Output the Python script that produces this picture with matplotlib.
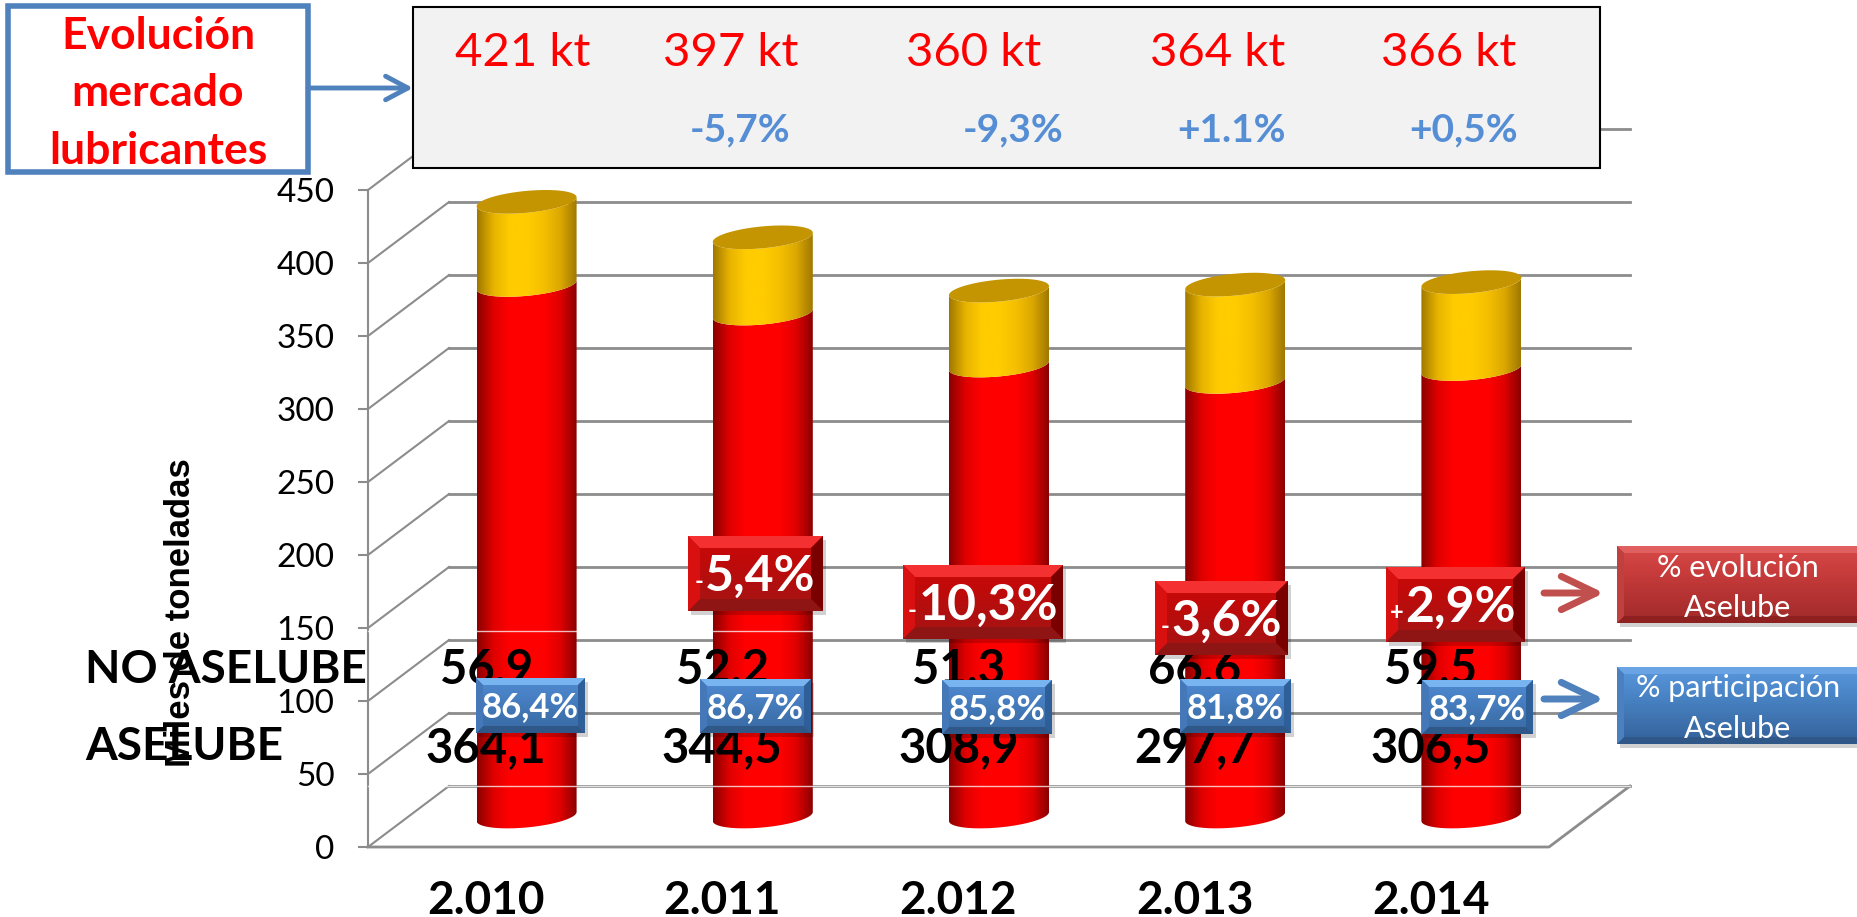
import numpy as np
import matplotlib
matplotlib.use('Agg')
import matplotlib.pyplot as plt
from matplotlib.colors import LinearSegmentedColormap
from matplotlib.patches import Polygon, Rectangle
from matplotlib.transforms import blended_transform_factory

# Data
years = ['2.010', '2.011', '2.012', '2.013', '2.014']
aselube = [364.1, 344.5, 308.9, 297.7, 306.5]
no_aselube = [56.9, 52.2, 51.3, 66.6, 59.5]
aselube_labels = ['364,1', '344,5', '308,9', '297,7', '306,5']
no_aselube_labels = ['56,9', '52,2', '51,3', '66,6', '59,5']
market_labels = ['421 kt', '397 kt', '360 kt', '364 kt', '366 kt']
market_change = ['-5,7%', '-9,3%', '+1.1%', '+0,5%']
share_labels = ['86,4%', '86,7%', '85,8%', '81,8%', '83,7%']
evol_signs = ['-', '-', '-', '+']
evol_labels = ['5,4%', '10,3%', '3,6%', '2,9%']
y_ticks = [0, 50, 100, 150, 200, 250, 300, 350, 400, 450]

W, H = 1858, 917
FONT = 'Lato'
GRID = '#8c8c8c'

# 3D look of the chart, in axis units
DEPTH_X = 81 / 236.2
DEPTH_Y = 61 / 1.46
BAR_A = 50 / 236.2
BAR_B = 7.5
BAR_TILT = 3.1

fig = plt.figure(figsize=(W / 100, H / 100), dpi=100)

# main axes = front plane of the 3D chart
ax = fig.add_axes([368 / W, 1 - 847 / H, (1549 - 368) / W, (847 - 190) / H])
ax.patch.set_alpha(0)
for s in ['top', 'right', 'bottom']:
    ax.spines[s].set_visible(False)
ax.spines['left'].set_color(GRID)
ax.spines['left'].set_linewidth(1.5)

# overlay in pixels for boxes and notes
ov = fig.add_axes([0, 0, 1, 1], zorder=5)
ov.patch.set_alpha(0)
ov.axis('off')


def gradient(axes, extent, colors, clip=None, horizontal=True, zorder=3):
    cmap = LinearSegmentedColormap.from_list('g', colors)
    g = np.linspace(0, 1, 256)
    g = g.reshape(1, -1) if horizontal else g.reshape(-1, 1)
    im = axes.imshow(g, cmap=cmap, extent=extent, aspect='auto', zorder=zorder,
                     interpolation='bilinear', origin='upper')
    if clip is not None:
        im.set_clip_path(clip)
    return im


def cylinder(x, v0, v1, colors):
    t = np.linspace(np.pi, 2 * np.pi, 60)
    c0 = v0 + DEPTH_Y / 2
    c1 = v1 + DEPTH_Y / 2
    xs = x + DEPTH_X / 2 + BAR_A * np.cos(t)
    low = c0 + BAR_B * np.sin(t) + BAR_TILT * np.cos(t)
    up = c1 + BAR_B * np.sin(t) + BAR_TILT * np.cos(t)
    pts = np.column_stack([np.r_[xs, xs[::-1]], np.r_[low, up[::-1]]])
    body = Polygon(pts, closed=True, fc='none', ec='none', transform=ax.transData)
    ax.add_patch(body)
    ext = (xs.min(), xs.max(), low.min() - 5, up.max() + 5)
    gradient(ax, ext, colors, clip=body)


def cap(x, v, color):
    t = np.linspace(0, 2 * np.pi, 120)
    c = v + DEPTH_Y / 2
    pts = np.column_stack([x + DEPTH_X / 2 + BAR_A * np.cos(t),
                           c + BAR_B * np.sin(t) + BAR_TILT * np.cos(t)])
    ax.add_patch(Polygon(pts, closed=True, fc=color, ec='none', zorder=4))


def bevel_box(x0, y0, x1, y1, face, edges, bevel=14):
    ov.add_patch(Rectangle((x0 + 3, y0 + 4), x1 - x0, y1 - y0, fc='#000000', ec='none',
                           alpha=0.18, zorder=3))
    ix0, iy0, ix1, iy1 = x0 + bevel, y0 + bevel, x1 - bevel, y1 - bevel
    gradient(ov, (x0, x1, y1, y0), face, horizontal=False, zorder=4)
    trap = [[(x0, y0), (x1, y0), (ix1, iy0), (ix0, iy0)],
            [(x1, y0), (x1, y1), (ix1, iy1), (ix1, iy0)],
            [(x0, y1), (x1, y1), (ix1, iy1), (ix0, iy1)],
            [(x0, y0), (x0, y1), (ix0, iy1), (ix0, iy0)]]
    for pts, c in zip(trap, edges):
        ov.add_patch(Polygon(pts, closed=True, fc=c, ec='none', zorder=4.5))


# walls and gridlines
ymin, ymax = 0, 450
for v in y_ticks:
    ax.plot([-0.5, -0.5 + DEPTH_X], [v, v + DEPTH_Y], color=GRID, lw=1.5, clip_on=False, zorder=1)
    ax.plot([-0.5 + DEPTH_X, 4.5 + DEPTH_X], [v + DEPTH_Y, v + DEPTH_Y], color=GRID, lw=2,
            clip_on=False, zorder=1)
ax.plot([-0.5, 4.5, 4.5 + DEPTH_X], [0, 0, DEPTH_Y], color=GRID, lw=2, clip_on=False, zorder=1)

# bars
red = ['#8a0000', '#e00000', '#ff0000', '#ff0000', '#ff0000', '#e00000', '#8a0000']
gold = ['#a07800', '#e8b400', '#ffcc00', '#ffcc00', '#f5c000', '#dca800', '#a07800']
for i in range(len(years)):
    cylinder(i, 0, aselube[i], red)
    cylinder(i, aselube[i], aselube[i] + no_aselube[i], gold)
    cap(i, aselube[i] + no_aselube[i], '#c49500')

# pale lines that cross the bars in the original
for v in [148, 42]:
    ax.plot([-0.5, 4.5 + DEPTH_X], [v, v], color='#ffffff', lw=1, alpha=0.75, clip_on=False, zorder=5)

ax.set_xlim(-0.5, 4.5)
ax.set_ylim(ymin, ymax)
ax.set_yticks(y_ticks)
ax.set_xticks(range(len(years)))
ax.set_xticklabels(years, fontsize=33, fontweight='bold', family=FONT, color='black')
ax.tick_params(axis='x', length=0, pad=24)
ax.tick_params(axis='y', length=7.2, width=1.5, color=GRID, pad=17, labelsize=24,
               labelcolor='black')
for lab in ax.get_yticklabels():
    lab.set_family(FONT)

# top boxes
ov.add_patch(Rectangle((413, 7), 1600 - 413, 161, fc='#f2f2f2', ec='black', lw=1.5, zorder=2))
ov.add_patch(Rectangle((8, 6), 300, 166, fc='white', ec='#4f81bd', lw=4, zorder=2))
for txt, y in zip(['Evolución', 'mercado', 'lubricantes'], [36, 93, 151]):
    ov.text(158, y, txt, color='#ff0000', fontsize=32, fontweight='bold', family=FONT,
            ha='center', va='center', zorder=6)

market_x = [523, 731, 974, 1218, 1449]
for x, txt in zip(market_x, market_labels):
    ov.text(x, 53, txt, color='#ff0000', fontsize=34, family=FONT, ha='center', va='center', zorder=6)
change_x = [740, 1013, 1232, 1464]
for x, txt in zip(change_x, market_change):
    ov.text(x, 130, txt, color='#558ed5', fontsize=28, fontweight='bold', family=FONT,
            ha='center', va='center', zorder=6)

# table under the bars
tr = blended_transform_factory(ax.transData, ov.transData)
ov.text(85, 670, 'NO ASELUBE', fontsize=33, fontweight='bold', family=FONT, ha='left', va='center', zorder=2.5)
ov.text(85, 747, 'ASELUBE', fontsize=33, fontweight='bold', family=FONT, ha='left', va='center', zorder=2.5)
for i in range(len(years)):
    ov.text(i, 669, no_aselube_labels[i], transform=tr, fontsize=34, fontweight='bold', family=FONT,
            ha='center', va='center', zorder=2.5)
    ov.text(i, 748, aselube_labels[i], transform=tr, fontsize=34, fontweight='bold', family=FONT,
            ha='center', va='center', zorder=2.5)
ov.text(181, 613, 'Miles de toneladas', rotation=90, fontsize=25, fontweight='bold',
        family='Liberation Sans', ha='center', va='center', zorder=2.6)

# blue share boxes
blue_face = ['#4f8ad0', '#4880c4', '#3f74b0', '#386aa5']
blue_edges = ['#78b4f0', '#2f5f98', '#2f5788', '#4478b8']
share_box = [(476, 678, 585, 733), (700, 679, 811, 733), (942, 680, 1052, 734),
             (1180, 679, 1291, 733), (1422, 680, 1533, 734)]
for (x0, y0, x1, y1), txt in zip(share_box, share_labels):
    bevel_box(x0, y0, x1, y1, blue_face, blue_edges, bevel=7)
    ov.text((x0 + x1) / 2, (y0 + y1) / 2 + 2, txt, color='white', fontsize=25, fontweight='bold',
            family=FONT, ha='center', va='center', zorder=6)

# red evolution boxes
red_face = ['#cc0808', '#c00a0a', '#b01010', '#a51414']
red_edges = ['#f53030', '#7a0000', '#8f1414', '#d81010']
evol_box = [(688, 536, 823, 611), (903, 565, 1063, 639), (1155, 581, 1288, 655), (1386, 567, 1525, 642)]
for (x0, y0, x1, y1), sign, txt in zip(evol_box, evol_signs, evol_labels):
    bevel_box(x0, y0, x1, y1, red_face, red_edges, bevel=12)
    cx = (x0 + x1) / 2
    big = ov.text(cx + 5, (y0 + y1) / 2 + 3, txt, color='white', fontsize=36, fontweight='bold',
                  family=FONT, ha='center', va='center', zorder=6)
    ov.annotate(sign, xy=(0, 0.38), xycoords=big, xytext=(-1, 0), textcoords='offset points',
                color='white', fontsize=17, fontweight='bold', family=FONT, ha='right', va='center',
                zorder=6)

# legend boxes
bevel_box(1617, 546, 1870, 623, ['#d84a4a', '#c83c3c', '#b43232', '#a02a2a'],
          ['#e06060', '#a02020', '#8e2020', '#c04040'], bevel=7)
bevel_box(1617, 667, 1870, 744, ['#5a98dc', '#4a86c8', '#3f74b0', '#33609a'],
          ['#6aa4e4', '#2f5788', '#2f5788', '#4a80c0'], bevel=7)
for y, txt in zip([568, 608, 688, 729], ['% evolución', 'Aselube', '% participación', 'Aselube']):
    ov.text(1738, y, txt, color='white', fontsize=22, family=FONT, ha='center', va='center', zorder=6)

# arrows
arrows = [(308, 413, 88, '#4f81bd', 3.5, 1.6, 0.85),
          (1544, 1604, 593, '#c0504d', 5, 2.5, 1.2),
          (1544, 1604, 699, '#4f81bd', 5, 2.5, 1.2)]
for x0, x1, y, c, lw, hl, hw in arrows:
    ov.annotate('', xy=(x1, y), xytext=(x0, y), zorder=3,
                arrowprops=dict(arrowstyle=f'->,head_length={hl},head_width={hw}', color=c, lw=lw,
                                shrinkA=0, shrinkB=0))

ov.set_xlim(0, W)
ov.set_ylim(H, 0)

fig.savefig('out.png', dpi=100)
